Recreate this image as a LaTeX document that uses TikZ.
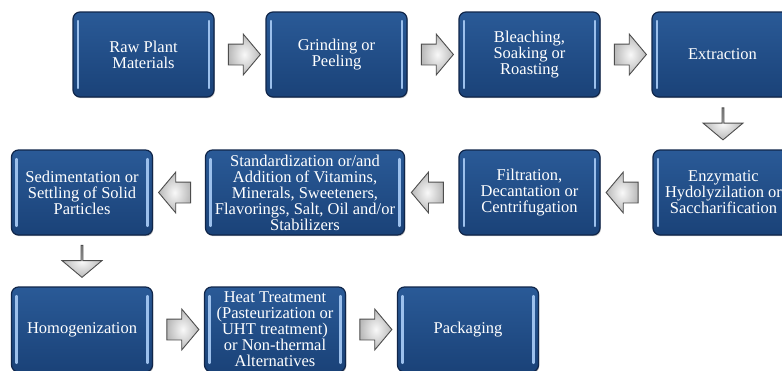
\documentclass[tikz,border=0pt]{standalone}
\usepackage{fontspec}
\newfontfamily\boxfont{Liberation Serif}
\usetikzlibrary{shapes.arrows,shadows,calc}
\definecolor{boxtop}{HTML}{2A5A97}
\definecolor{boxbot}{HTML}{1A4278}
\definecolor{boxline}{HTML}{10264A}
\definecolor{barblue}{HTML}{9CC0EC}
\definecolor{arrowline}{HTML}{4D4D4D}
\begin{document}
\begin{tikzpicture}[x=1pt,y=-1pt,
  stepbox/.style={draw=boxline, line width=1.2pt, rounded corners=7pt,
    top color=boxtop, bottom color=boxbot,
    minimum width=141pt, minimum height=85pt, inner sep=1pt,
    text=white, align=center, font=\boxfont\fontsize{16.5}{16}\selectfont,
    drop shadow={shadow xshift=0.8pt, shadow yshift=-1.2pt, opacity=0.45},
    path picture={
      \draw[barblue, line width=2.2pt, line cap=round]
        ([xshift=5pt,yshift=9pt]path picture bounding box.south west)
          -- ([xshift=5pt,yshift=-9pt]path picture bounding box.north west)
        ([xshift=-5pt,yshift=9pt]path picture bounding box.south east)
          -- ([xshift=-5pt,yshift=-9pt]path picture bounding box.north east);
    }},
  flowarrow/.style={single arrow, draw=arrowline, line width=0.9pt,
    inner color=gray!5, outer color=gray!55, inner xsep=0pt, inner ysep=10pt,
    minimum height=32pt, minimum width=40pt,
    single arrow head extend=10pt, single arrow tip angle=100},
  rightarrow/.style={flowarrow},
  leftarrow/.style={flowarrow, shape border rotate=180},
  downarrow/.style={flowarrow, shape border rotate=270}]
\clip (0,0) rectangle (782,370);
\fill[white] (0,0) rectangle (782,370);
% first row
\node[stepbox] (raw) at (143.5,54.5) {Raw Plant\\Materials};
\node[stepbox] (grind) at (336.5,54.5) {Grinding or\\Peeling};
\node[stepbox] (bleach) at (529.5,54.5) {Bleaching,\\Soaking or\\Roasting};
\node[stepbox] (extract) at (722.5,54.5) {Extraction};
% second row
\node[stepbox] (enzyme) at (723.5,192.5) {Enzymatic\\Hydolyzilation or\\Saccharification};
\node[stepbox] (filter) at (529.5,192.5) {Filtration,\\Decantation or\\Centrifugation};
\node[stepbox, minimum width=199pt] (standard) at (305,192.5) {Standardization or/and\\Addition of Vitamins,\\Minerals, Sweeteners,\\Flavorings, Salt, Oil and/or\\Stabilizers};
\node[stepbox] (sediment) at (82,192.5) {Sedimentation or\\Settling of Solid\\Particles};
% third row
\node[stepbox] (homog) at (82,329.5) {Homogenization};
\node[stepbox] (heat) at (275,329.5) {Heat Treatment\\(Pasteurization or\\UHT treatment)\\or Non-thermal\\Alternatives};
\node[stepbox] (pack) at (468,329.5) {Packaging};
% arrows
\node[rightarrow] (a1) at ($(raw.east)!.5!(grind.west)$) {};
\node[rightarrow] (a2) at ($(grind.east)!.5!(bleach.west)$) {};
\node[rightarrow] (a3) at ($(bleach.east)!.5!(extract.west)$) {};
\node[downarrow] (a4) at ($(extract.south)!.5!(enzyme.north)$) {};
\node[leftarrow] (a5) at ($(enzyme.west)!.5!(filter.east)$) {};
\node[leftarrow] (a6) at ($(filter.west)!.5!(standard.east)$) {};
\node[leftarrow] (a7) at ($(standard.west)!.5!(sediment.east)$) {};
\node[downarrow] (a8) at ($(sediment.south)!.5!(homog.north)$) {};
\node[rightarrow] (a9) at ($(homog.east)!.5!(heat.west)$) {};
\node[rightarrow] (a10) at ($(heat.east)!.5!(pack.west)$) {};
\end{tikzpicture}
\end{document}
